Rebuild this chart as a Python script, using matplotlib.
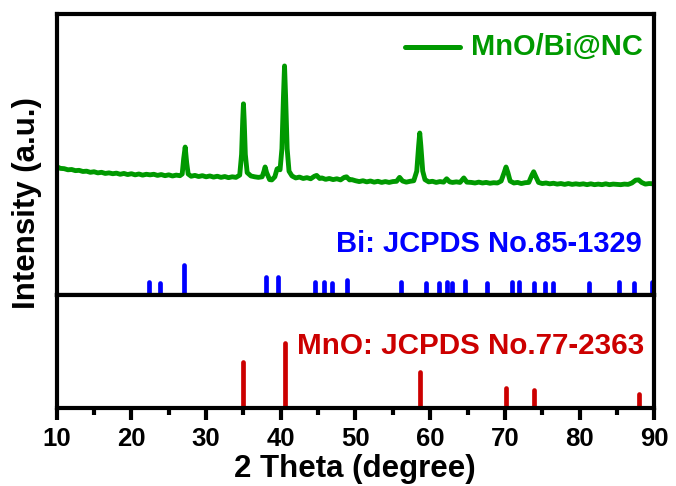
import matplotlib
matplotlib.use("Agg")
import matplotlib.pyplot as plt
from matplotlib.ticker import MultipleLocator

plt.rcParams['font.family'] = ['Liberation Sans', 'DejaVu Sans']
plt.rcParams['font.weight'] = 'bold'

# ---- data ----
two_theta = [10.0, 10.5, 11.0, 11.5, 12.0, 12.5, 13.0, 13.5, 14.0, 14.5, 15.0, 15.5, 16.0, 16.5,
             17.0, 17.5, 18.0, 18.5, 19.0, 19.5, 20.0, 20.5, 21.0, 21.5, 22.0, 22.5, 23.0, 23.5,
             24.0, 24.5, 25.0, 25.5, 26.0, 26.5, 26.8, 27.0, 27.2, 27.4, 27.6, 28.0, 28.5, 29.0,
             29.5, 30.0, 30.5, 31.0, 31.5, 32.0, 32.5, 33.0, 33.5, 34.0, 34.5, 34.75, 34.9, 35.0,
             35.1, 35.25, 35.5, 36.0, 36.5, 37.0, 37.5, 37.75, 37.9, 38.1, 38.5, 38.8, 39.2, 39.5,
             39.7, 39.9, 40.15, 40.35, 40.5, 40.65, 40.85, 41.1, 41.5, 42.0, 42.5, 43.0, 43.5, 44.0,
             44.5, 44.8, 45.2, 45.5, 46.0, 46.5, 47.0, 47.5, 48.0, 48.5, 48.8, 49.2, 49.5, 50.0,
             50.5, 51.0, 51.5, 52.0, 52.5, 53.0, 53.5, 54.0, 54.5, 55.0, 55.5, 55.9, 56.3, 56.8,
             57.3, 57.8, 58.2, 58.45, 58.6, 58.75, 59.0, 59.3, 59.8, 60.3, 60.8, 61.3, 61.8, 62.2,
             62.6, 63.0, 63.5, 64.0, 64.5, 64.9, 65.5, 66.0, 66.5, 67.0, 67.5, 68.0, 68.5, 69.0,
             69.5, 69.9, 70.15, 70.4, 70.7, 71.2, 71.7, 72.2, 72.7, 73.2, 73.6, 73.85, 74.1, 74.5,
             75.0, 75.5, 76.0, 76.5, 77.0, 77.5, 78.0, 78.5, 79.0, 79.5, 80.0, 80.5, 81.0, 81.5,
             82.0, 82.5, 83.0, 83.5, 84.0, 84.5, 85.0, 85.5, 86.0, 86.5, 87.0, 87.5, 87.9, 88.3,
             88.8, 89.3, 90.0]
intensity = [45.6, 45.0, 44.9, 44.5, 44.6, 44.2, 44.3, 43.9, 44.0, 43.6, 43.8, 43.4, 43.6, 43.2,
             43.4, 43.1, 43.3, 42.9, 43.2, 42.8, 43.1, 42.7, 43.0, 42.6, 42.9, 42.7, 42.9, 42.5,
             42.8, 42.4, 42.7, 42.3, 42.6, 42.4, 43.0, 48.5, 52.6, 47.0, 43.0, 42.2, 42.5, 42.1,
             42.4, 42.0, 42.3, 41.9, 42.2, 41.8, 42.1, 41.7, 42.0, 41.8, 42.6, 50.0, 62.0, 68.0,
             62.0, 50.0, 43.5, 42.3, 42.0, 41.8, 42.0, 44.0, 45.5, 43.5, 41.0, 40.9, 42.0, 44.8,
             45.0, 44.5, 52.0, 70.0, 81.5, 70.0, 52.0, 44.0, 42.3, 41.6, 41.9, 41.4, 41.7, 41.3,
             42.2, 42.5, 41.4, 41.6, 41.1, 41.4, 41.0, 41.3, 40.9, 41.8, 42.0, 40.9, 41.0, 40.6,
             40.3, 40.6, 40.2, 40.5, 40.1, 40.4, 40.0, 40.3, 40.0, 40.3, 40.4, 41.8, 40.5, 40.1,
             40.4, 40.6, 44.0, 53.0, 57.6, 53.0, 44.0, 41.0, 40.2, 40.4, 40.0, 40.3, 40.1, 41.3,
             40.2, 40.0, 40.2, 40.0, 41.6, 40.1, 40.0, 39.8, 40.1, 39.8, 40.0, 39.7, 39.9, 39.8,
             40.5, 43.5, 45.5, 43.5, 40.5, 39.8, 40.0, 39.6, 39.9, 40.0, 42.5, 43.8, 42.3, 40.0,
             39.6, 39.8, 39.5, 39.7, 39.4, 39.6, 39.3, 39.6, 39.3, 39.5, 39.3, 39.5, 39.2, 39.5,
             39.2, 39.4, 39.2, 39.5, 39.2, 39.4, 39.3, 39.2, 39.4, 39.3, 39.8, 40.8, 40.9, 40.0,
             39.4, 39.6, 39.5]

bi_pos = [22.4, 23.8, 27.1, 38.0, 39.6, 44.6, 45.8, 46.8, 48.8, 56.1, 59.4, 61.2, 62.3, 62.9,
          64.6, 67.6, 70.9, 71.9, 73.9, 75.4, 76.5, 81.3, 85.3, 87.3, 89.7]
bi_int = [4.4, 4.0, 10.5, 6.2, 6.3, 4.4, 4.7, 4.1, 5.1, 4.6, 4.1, 4.1, 4.7, 4.1,
          5.0, 4.1, 4.6, 4.4, 4.1, 4.1, 4.0, 4.1, 4.4, 4.1, 4.4]

mno_pos = [35.0, 40.6, 58.7, 70.2, 73.9, 88.0]
mno_int = [40.2, 57.3, 32.0, 17.3, 15.5, 12.0]

x_ticks = [10, 20, 30, 40, 50, 60, 70, 80, 90]

GREEN = '#009900'
BLUE = '#0000FF'
RED = '#CC0000'

W, H = 676, 486
fig = plt.figure(figsize=(W / 100, H / 100), dpi=100)

def fx(px):
    return px / W

def fy(py):
    return 1 - py / H

left, right = 56.7, 654.3
top, mid, bot = 14.0, 294.7, 408.0

ax_top = fig.add_axes([fx(left), fy(mid), fx(right) - fx(left), fy(top) - fy(mid)])
ax_bot = fig.add_axes([fx(left), fy(bot), fx(right) - fx(left), fy(mid) - fy(bot)])

for ax in (ax_top, ax_bot):
    ax.set_xlim(10, 90)
    ax.set_ylim(0, 100)
    ax.set_yticks([])
    for s in ax.spines.values():
        s.set_linewidth(3)

ax_top.plot(two_theta, intensity, color=GREEN, lw=3.5, solid_joinstyle='round')
lc = ax_top.vlines(bi_pos, 0, bi_int, color=BLUE, lw=3.4)
lc.set_capstyle('round')
ax_top.set_xticks([])

lc2 = ax_bot.vlines(mno_pos, 0, mno_int, color=RED, lw=3.4)
lc2.set_capstyle('round')

ax_bot.set_xticks(x_ticks)
ax_bot.xaxis.set_minor_locator(MultipleLocator(5))
ax_bot.tick_params(axis='x', which='major', direction='out', length=8.6, width=3,
                   labelsize=18.5, pad=5)
ax_bot.tick_params(axis='x', which='minor', direction='out', length=5, width=3)
for lab in ax_bot.get_xticklabels():
    lab.set_fontweight('bold')

# axis labels
fig.text(fx(355), fy(476.7), '2 Theta (degree)', ha='center', va='baseline',
         fontsize=22.5, fontweight='bold')
fig.text(fx(27), fy(203.5), 'Intensity (a.u.)', ha='center', va='center',
         rotation=90, fontsize=22.5, fontweight='bold')

# annotations
fig.text(fx(642), fy(251.7), 'Bi: JCPDS No.85-1329', ha='right', va='baseline',
         fontsize=21, fontweight='bold', color=BLUE)
fig.text(fx(644), fy(354), 'MnO: JCPDS No.77-2363', ha='right', va='baseline',
         fontsize=21.3, fontweight='bold', color=RED)

# legend
fig.add_artist(plt.Line2D([fx(405), fx(459.5)], [fy(46.7), fy(46.7)], color=GREEN,
                          lw=3.6, solid_capstyle='round', transform=fig.transFigure))
fig.text(fx(471), fy(55), 'MnO/Bi@NC', ha='left', va='baseline',
         fontsize=20.9, fontweight='bold', color=GREEN)

fig.savefig('out.png', dpi=100)
